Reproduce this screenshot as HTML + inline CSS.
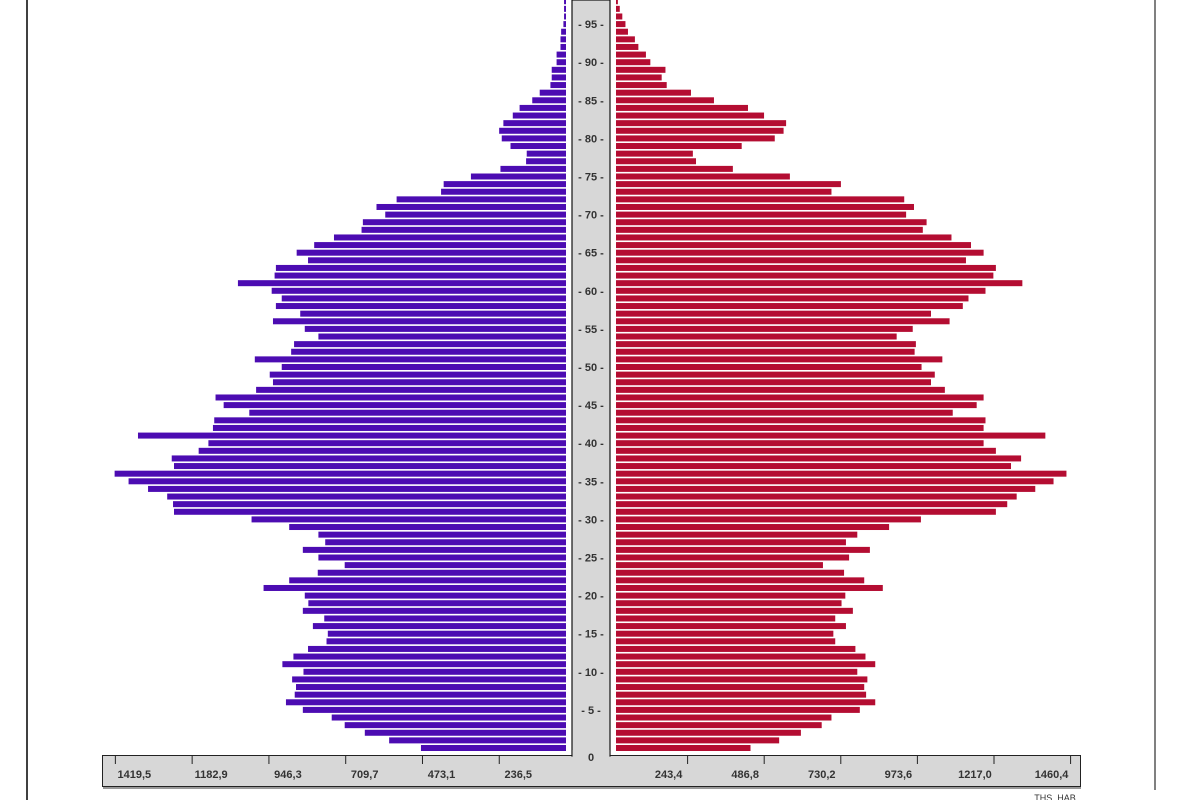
<!DOCTYPE html>
<html><head><meta charset="utf-8"><style>
html,body{margin:0;padding:0;background:#fff;width:1200px;height:800px;overflow:hidden}
svg{display:block;font-family:"Liberation Sans",sans-serif}
</style></head><body>
<svg id="chart" width="1200" height="800" viewBox="0 0 1200 800">
<line x1="27" y1="0" x2="27" y2="800" stroke="#000" stroke-width="1.5"/>
<line x1="1155" y1="0" x2="1155" y2="790" stroke="#000" stroke-width="1"/>
<rect x="102.5" y="755.5" width="978" height="31" fill="#d7d7d7" stroke="#222" stroke-width="1"/>
<line x1="103" y1="788" x2="1081" y2="788" stroke="#999" stroke-width="2"/>
<rect x="572" y="0" width="38" height="756" fill="#d7d7d7" stroke="#111" stroke-width="1.2"/>
<rect x="572.6" y="750" width="36.8" height="10" fill="#d7d7d7"/>
<text x="591" y="761" font-size="11" font-weight="bold" fill="#333" text-anchor="middle">0</text>
<text x="1055" y="801" font-size="9" fill="#333" text-anchor="middle">THS. HAB</text>
<g id="bars"></g><g id="ages"></g><g id="ticks"></g>
</svg>
<script>
// ages 0..98
const ages = Array.from({length:99},(_,i)=>i);
const males = [447,545,620,682,722,811,863,836,832,844,809,874,840,795,738,734,780,745,811,794,805,932,853,765,682,763,811,742,763,853,969,1208,1211,1229,1288,1348,1391,1208,1215,1132,1102,1319,1088,1084,976,1055,1080,955,903,913,876,959,847,838,763,805,903,819,894,876,907,1011,898,894,795,830,776,715,630,626,557,584,522,385,377,293,202,123,121,171,198,206,193,164,143,104,81,48,44,44,29,29,17,17,15,8,6,6,6];
const females = [427,518,587,653,684,774,823,794,788,798,766,823,792,760,696,690,730,696,752,716,728,847,788,724,657,740,806,730,766,867,968,1206,1242,1272,1331,1389,1430,1254,1286,1206,1167,1363,1167,1173,1069,1145,1167,1044,1000,1012,970,1036,948,952,891,942,1059,1000,1101,1119,1173,1290,1198,1206,1111,1167,1127,1065,974,986,921,946,915,684,714,552,371,254,244,399,504,532,540,470,419,311,238,161,145,157,109,95,71,60,38,30,20,12,6];
const leftTicks = [236.5,473.1,709.7,946.3,1182.9,1419.5];
const rightTicks = [243.4,486.8,730.2,973.6,1217.0,1460.4];
const ageTicks = [5,10,15,20,25,30,35,40,45,50,55,60,65,70,75,80,85,90,95];

const NS="http://www.w3.org/2000/svg";
const yAge = a => 748 - a*7.62;
const xMaleBar = v => v*0.3245;
const xFemaleBar = v => v*0.315;
const xLeftTick = v => 576 - v*0.3245;
const xRightTick = v => 611 + v*0.3147;
function mk(tag, attrs, parent){const e=document.createElementNS(NS,tag);for(const k in attrs)e.setAttribute(k,attrs[k]);parent.appendChild(e);return e;}
const gb=document.getElementById('bars'), ga=document.getElementById('ages'), gt=document.getElementById('ticks');
ages.forEach((a,i)=>{
  const y=yAge(a)-3;
  const w=xMaleBar(males[i]);
  const m=mk('rect',{x:566-w,y:y,width:w,height:6,fill:'#4c0cb2'},gb);
  
  
  const fw=xFemaleBar(females[i]);
  const f=mk('rect',{x:616,y:y,width:fw,height:6,fill:'#b40d32'},gb);
  
  
});
ageTicks.forEach(a=>{
  const t=mk('text',{x:591,y:yAge(a)+4,'font-size':11,'font-weight':'bold',fill:'#333','text-anchor':'middle'},ga);
  t.textContent='- '+a+' -';
  
  
});
function fmt(v){return v.toFixed(1).replace('.',',');}
leftTicks.forEach(v=>{
  const x=xLeftTick(v);
  const l=mk('line',{x1:x,y1:756,x2:x,y2:764,stroke:'#222','stroke-width':1},gt);
  
  
  const t=mk('text',{x:x+19,y:778,'font-size':11,'font-weight':'bold',fill:'#333','text-anchor':'middle'},gt);
  t.textContent=fmt(v);
  
  
});
rightTicks.forEach(v=>{
  const x=xRightTick(v);
  const l=mk('line',{x1:x,y1:756,x2:x,y2:764,stroke:'#222','stroke-width':1},gt);
  
  
  const t=mk('text',{x:x-19,y:778,'font-size':11,'font-weight':'bold',fill:'#333','text-anchor':'middle'},gt);
  t.textContent=fmt(v);
  
  
});
</script>
</body></html>
